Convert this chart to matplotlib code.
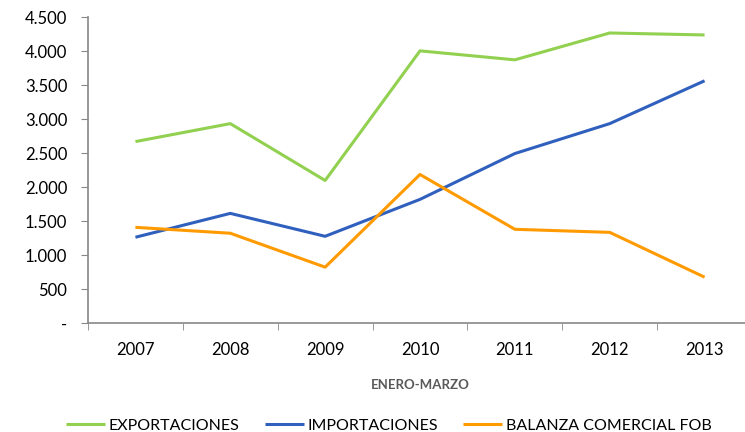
import matplotlib.pyplot as plt
from matplotlib.ticker import FuncFormatter

plt.rcParams['font.family'] = ['Lato', 'DejaVu Sans']

years = ['2007', '2008', '2009', '2010', '2011', '2012', '2013']
exportaciones = [2668, 2932, 2096, 4002, 3870, 4265, 4236]
importaciones = [1261, 1612, 1275, 1818, 2492, 2932, 3562]
balanza = [1407, 1320, 821, 2184, 1378, 1333, 674]

fig = plt.figure(figsize=(7.45, 4.32), dpi=100)
ax = fig.add_axes([88 / 745, 1 - 323 / 432, (752 - 88) / 745, (323 - 17) / 432])

x = range(len(years))
ax.plot(x, exportaciones, color='#92D050', lw=2.2, label='EXPORTACIONES', solid_capstyle='butt')
ax.plot(x, importaciones, color='#3060BE', lw=2.2, label='IMPORTACIONES', solid_capstyle='butt')
ax.plot(x, balanza, color='#FF9A00', lw=2.2, label='BALANZA COMERCIAL FOB', solid_capstyle='butt')

ax.set_xlim(-0.5, 6.5)
ax.set_ylim(0, 4500)
ax.set_yticks(range(0, 4501, 500))


def fmt(v, pos):
    if v == 0:
        return '-'
    return f'{int(v):,}'.replace(',', '.')


ax.yaxis.set_major_formatter(FuncFormatter(fmt))
ax.set_xticks(x)
ax.set_xticklabels(years)
ax.set_xticks([i - 0.5 for i in range(8)], minor=True)
ax.tick_params(axis='x', which='major', length=0, pad=14, labelsize=12)
ax.tick_params(axis='x', which='minor', length=5, color='#888888')
ax.tick_params(axis='y', length=5, color='#888888', labelsize=12, pad=10)

for s in ['top', 'right']:
    ax.spines[s].set_visible(False)
for s in ['left', 'bottom']:
    ax.spines[s].set_color('#888888')
    ax.spines[s].set_linewidth(1.2)

ax.set_xlabel('ENERO-MARZO', fontsize=9.5, fontweight='bold', color='#595959', labelpad=15)

fig.legend(loc='lower center', bbox_to_anchor=(0.522, -0.035), ncol=3, frameon=False,
           fontsize=11.5, handlelength=2.45, handletextpad=0.2, columnspacing=1.6)

fig.savefig('out.png', dpi=100)
